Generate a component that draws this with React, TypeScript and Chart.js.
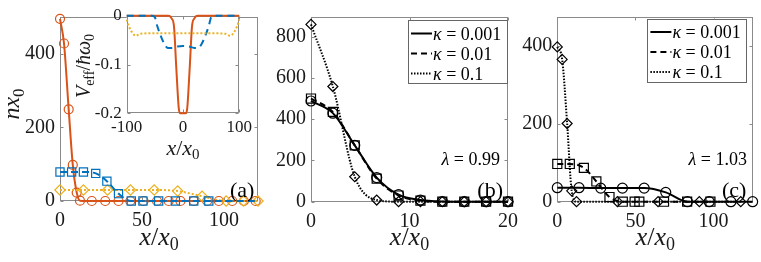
import React, { useEffect, useRef } from 'react';
import { Chart, registerables } from 'chart.js';
Chart.register(...registerables);

const W = 761, H = 262;
const FONT = "'Liberation Serif', 'DejaVu Serif', serif";
const FRAME = '#8a8a8a';
const TEXT = '#1a1a1a';
const ORANGE = '#D95319', BLUE = '#0072BD', YELLOW = '#EDB120';

// ---------- Panel (a) ----------
const aXTicks = [0, 50, 100];
const aYTicks = [0, 200, 400];
const aCircX = [0, 2.45, 5.3, 7.8, 10.2, 12.2, 19.4, 27.6, 35.7, 42.9, 51, 59.2, 66.3, 73.5, 81.6, 89.8, 96.9, 105.1, 112.2, 119.4];
const aCircY = [495, 428, 249, 98, 23, 1, 0, 0, 0, 0, 0, 0, 0, 0, 0, 0, 0, 0, 0, 0];
const aSqX = [0, 7.1, 14.3, 21.8, 28.6, 35.7, 43.5, 50.6, 60.2, 70.4, 81.6, 90.8, 121];
const aSqY = [79, 79, 79, 75, 54, 20, 0, 0, 0, 0, 0, 0, 0];
const aSqMarker = [1, 1, 1, 1, 1, 1, 1, 1, 1, 1, 1, 1, 0];
const aDiaX = [0, 14.3, 29, 43, 57.5, 71.8, 86.7, 101.4, 112, 120.8];
const aDiaY = [30, 30, 30, 30, 30, 27, 13, 0, 0, 0];

// ---------- Inset of (a) ----------
const insXTicks = [-100, 0, 100];
const insYTicks = [0, -0.1, -0.2];
const insOrX = [-100, -26, -20, -16, -12, -7.5, -5, 0, 5, 7.5, 12, 16, 20, 26, 100];
const insOrY = [0, 0, -0.006, -0.022, -0.105, -0.19, -0.2, -0.2, -0.2, -0.19, -0.105, -0.022, -0.006, 0, 0];
const insBlX = [-100, -55, -50, -46, -40, -33, -27, -20, -10, 0, 10, 20, 27, 33, 40, 46, 50, 55, 100];
const insBlY = [0, 0, -0.003, -0.02, -0.04, -0.058, -0.066, -0.066, -0.063, -0.062, -0.063, -0.066, -0.066, -0.058, -0.04, -0.02, -0.003, 0, 0];
const insYeX = [-100, -96, -90, -84, -75, -50, 0, 50, 75, 84, 90, 96, 100];
const insYeY = [-0.008, -0.022, -0.035, -0.041, -0.037, -0.036, -0.036, -0.036, -0.037, -0.041, -0.035, -0.022, -0.008];

// ---------- Panel (b) ----------
const bXTicks = [0, 10, 20];
const bYTicks = [0, 200, 400, 600, 800];
const bX = [0, 2.22, 4.44, 6.67, 8.89, 11.11, 13.33, 15.56, 17.78, 20];
const bSolid = [488, 429, 273, 117, 34, 8, 1, 0, 0, 0];
const bDashed = [500, 435, 273, 112, 30, 5, 0, 0, 0, 0];
const bDotted = [859, 558, 121, 8, 0, 0, 0, 0, 0, 0];

// ---------- Panel (c) ----------
const cXTicks = [0, 50, 100];
const cYTicks = [0, 200, 400];
const cCircX = [0, 13.9, 27.8, 41.7, 55.6, 69.4, 83.3, 97.2, 111.1, 125];
const cCircY = [36, 36, 35, 35, 35, 24, 0, 0, 0, 0];
const cSqX = [0, 8, 17, 25, 33.4, 41.9, 49.5, 52.5, 68.3, 83.1, 98];
const cSqY = [97, 97, 87, 52, 12, 0, 0, 0, 0, 0, 0];
const cDiaX = [0, 3.1, 6.3, 9.2, 12.3, 38.5, 64.5, 90.9, 117.4];
const cDiaY = [398, 366, 201, 28, 0, 0, 0, 0, 0];

const legendLabels = ['0.001', '0.01', '0.1'];

// ---------- helpers ----------
type Seg = { t: string; it?: boolean; s?: number; dy?: number };
function drawRich(ctx: CanvasRenderingContext2D, segs: Seg[], x: number, y: number, size: number,
  align: 'left' | 'center' | 'right', rot = 0, color = TEXT) {
  ctx.save();
  ctx.translate(x, y);
  ctx.rotate(rot);
  ctx.fillStyle = color;
  ctx.textBaseline = 'alphabetic';
  ctx.textAlign = 'left';
  const fonts = segs.map(sg => `${sg.it ? 'italic ' : ''}${sg.s ?? size}px ${FONT}`);
  let total = 0;
  const widths = segs.map((sg, i) => { ctx.font = fonts[i]; const w = ctx.measureText(sg.t).width; total += w; return w; });
  let cx = align === 'left' ? 0 : align === 'center' ? -total / 2 : -total;
  segs.forEach((sg, i) => { ctx.font = fonts[i]; ctx.fillText(sg.t, cx, sg.dy ?? 0); cx += widths[i]; });
  ctx.restore();
}

const xOverX0 = (s: number): Seg[] => [
  { t: 'x', it: true, s }, { t: '/', s }, { t: 'x', it: true, s }, { t: '0', s: Math.round(s * 0.7), dy: s * 0.2 },
];

const frameTicksPlugin = {
  id: 'frameTicks',
  beforeDatasetsDraw(chart: any) {
    const { ctx, chartArea: a, scales } = chart;
    const TL = 3;
    ctx.save();
    ctx.strokeStyle = FRAME;
    ctx.lineWidth = 1;
    const L = Math.round(a.left) + 0.5, R = Math.round(a.right) - 0.5;
    const T = Math.round(a.top) + 0.5, B = Math.round(a.bottom) - 0.5;
    ctx.strokeRect(L, T, R - L, B - T);
    ctx.beginPath();
    scales.x.ticks.forEach((tk: any) => {
      const px = Math.round(scales.x.getPixelForValue(tk.value)) + 0.5;
      ctx.moveTo(px, B); ctx.lineTo(px, B - TL);
      ctx.moveTo(px, T); ctx.lineTo(px, T + TL);
    });
    scales.y.ticks.forEach((tk: any) => {
      const py = Math.round(scales.y.getPixelForValue(tk.value)) + 0.5;
      ctx.moveTo(L, py); ctx.lineTo(L + TL, py);
      ctx.moveTo(R, py); ctx.lineTo(R - TL, py);
    });
    ctx.stroke();
    ctx.restore();
  },
};

const YW = 50, XH = 50;
function baseOptions(area: { l: number; t: number; r: number; b: number }, xr: number[], xt: number[], yr: number[], yt: number[], tickSize: number, xPad: number) {
  return {
    responsive: false,
    animation: false,
    events: [],
    layout: { padding: { left: area.l - YW, top: area.t, right: W - area.r, bottom: H - area.b - XH } },
    plugins: { legend: { display: false }, tooltip: { enabled: false } },
    scales: {
      x: {
        type: 'linear', min: xr[0], max: xr[1],
        grid: { display: false, drawTicks: false }, border: { display: false },
        afterBuildTicks: (s: any) => { s.ticks = xt.map(v => ({ value: v })); },
        afterFit: (s: any) => { s.height = XH; },
        ticks: { font: { family: FONT, size: tickSize }, color: TEXT, padding: xPad, maxRotation: 0, autoSkip: false, callback: (v: any) => String(v) },
      },
      y: {
        type: 'linear', min: yr[0], max: yr[1],
        grid: { display: false, drawTicks: false }, border: { display: false },
        afterBuildTicks: (s: any) => { s.ticks = yt.map(v => ({ value: v })); },
        afterFit: (s: any) => { s.width = YW; },
        ticks: { font: { family: FONT, size: tickSize }, color: TEXT, padding: 5, autoSkip: false, callback: (v: any) => String(v) },
      },
    },
  };
}

function series(xs: number[], ys: number[], color: string, style: string, dash: number[], lw: number, r: number, mask?: number[]) {
  return {
    data: xs.map((x, i) => ({ x, y: ys[i] })),
    borderColor: color, borderWidth: lw, borderDash: dash,
    pointStyle: style, pointRadius: xs.map((_, i) => (mask && !mask[i] ? 0 : r)),
    pointBorderColor: color, pointBackgroundColor: 'rgba(0,0,0,0)', pointBorderWidth: 1.2,
    cubicInterpolationMode: 'monotone', fill: false, clip: false,
  };
}

function textPlugin(id: string, draw: (ctx: CanvasRenderingContext2D, a: any) => void) {
  return { id, afterDraw(chart: any) { draw(chart.ctx, chart.chartArea); } };
}

function legendDraw(ctx: CanvasRenderingContext2D, a: any, rOff: number, tOff: number) {
  const w = 100, h = 64;
  const l = a.right - rOff - w, t = a.top + tOff;
  ctx.save();
  ctx.fillStyle = '#fff';
  ctx.fillRect(l, t, w, h);
  ctx.strokeStyle = '#666';
  ctx.lineWidth = 1;
  ctx.strokeRect(Math.round(l) + 0.5, Math.round(t) + 0.5, w - 1, h - 1);
  const dashes = [[], [6, 4], [1.5, 1.5]];
  legendLabels.forEach((lab, i) => {
    const cy = t + 13.5 + i * 20;
    ctx.strokeStyle = '#000';
    ctx.lineWidth = 2;
    ctx.setLineDash(dashes[i]);
    ctx.beginPath(); ctx.moveTo(l + 3, cy); ctx.lineTo(l + 24, cy); ctx.stroke();
    ctx.setLineDash([]);
    drawRich(ctx, [{ t: 'κ', it: true }, { t: ' = ' + lab }], l + 25, cy + 6, 18, 'left', 0, '#000');
  });
  ctx.restore();
}

function useChart(make: () => any) {
  const ref = useRef<HTMLCanvasElement>(null);
  useEffect(() => {
    if (!ref.current) return;
    const ch = new Chart(ref.current, make());
    return () => ch.destroy();
  }, []);
  return ref;
}

const canvasStyle: React.CSSProperties = { position: 'absolute', left: 0, top: 0, width: W, height: H };

export default function App() {
  const refA = useChart(() => ({
    type: 'line',
    data: {
      datasets: [
        series(aSqX, aSqY, BLUE, 'rect', [7, 4], 2, 5.8, aSqMarker),
        series(aDiaX, aDiaY, YELLOW, 'rectRot', [2, 2], 2, 5.2),
        series(aCircX, aCircY, ORANGE, 'circle', [], 2, 4.5),
      ],
    },
    options: baseOptions({ l: 60, t: 5, r: 258.3, b: 201 }, [0, 121], aXTicks, [0, 500], aYTicks, 20, 8),
    plugins: [frameTicksPlugin, textPlugin('txtA', (ctx, a) => {
      drawRich(ctx, xOverX0(26), (a.left + a.right) / 2, 245, 26, 'center');
      drawRich(ctx, [{ t: 'n', it: true }, { t: 'x', it: true }, { t: '0', s: 17, dy: 5 }], 19, 104, 24, 'center', -Math.PI / 2);
      drawRich(ctx, [{ t: '(a)' }], a.right - 4, 197, 22, 'right', 0, '#000');
    })],
  }));

  const refIns = useChart(() => ({
    type: 'line',
    data: {
      datasets: [
        series(insYeX, insYeY, YELLOW, 'circle', [2, 2], 2, 0),
        series(insBlX, insBlY, BLUE, 'circle', [7, 5], 2, 0),
        series(insOrX, insOrY, ORANGE, 'circle', [], 2, 0),
      ],
    },
    options: baseOptions({ l: 126.7, t: 15.7, r: 239.3, b: 113.3 }, [-100, 100], insXTicks, [-0.2, 0], insYTicks, 17, 4),
    plugins: [
      { id: 'insBg', beforeDraw(chart: any) { const a = chart.chartArea; chart.ctx.save(); chart.ctx.fillStyle = '#fff'; chart.ctx.fillRect(a.left, a.top, a.right - a.left, a.bottom - a.top); chart.ctx.restore(); } },
      frameTicksPlugin,
      textPlugin('txtIns', (ctx, a) => {
        drawRich(ctx, xOverX0(22), (a.left + a.right) / 2, 155, 22, 'center');
        drawRich(ctx, [{ t: 'V', it: true }, { t: 'eff', s: 14, dy: 4 }, { t: '/' }, { t: 'ħ', it: true }, { t: 'ω', it: true }, { t: '0', s: 14, dy: 4 }], 90, 66, 20, 'center', -Math.PI / 2);
      }),
    ],
  }));

  const refB = useChart(() => ({
    type: 'line',
    data: {
      datasets: [
        series(bX, bDotted, '#000', 'rectRot', [1.5, 1.5], 2, 5),
        series(bX, bDashed, '#000', 'rect', [6, 4], 2, 6.4),
        series(bX, bSolid, '#000', 'circle', [], 2, 5),
      ],
    },
    options: baseOptions({ l: 311, t: 5, r: 508, b: 201.7 }, [0, 20], bXTicks, [0, 895], bYTicks, 20, 8),
    plugins: [frameTicksPlugin, textPlugin('txtB', (ctx, a) => {
      drawRich(ctx, xOverX0(26), (a.left + a.right) / 2, 245, 26, 'center');
      drawRich(ctx, [{ t: 'λ', it: true }, { t: ' = 0.99' }], 500, 165, 18, 'right', 0, '#000');
      drawRich(ctx, [{ t: '(b)' }], a.right - 5, 197, 22, 'right', 0, '#000');
      legendDraw(ctx, a, 0, 3);
    })],
  }));

  const refC = useChart(() => ({
    type: 'line',
    data: {
      datasets: [
        series(cDiaX, cDiaY, '#000', 'rectRot', [1.5, 1.5], 2, 5),
        series(cSqX, cSqY, '#000', 'rect', [6, 4], 2, 6.4),
        series(cCircX, cCircY, '#000', 'circle', [], 2, 5),
      ],
    },
    options: baseOptions({ l: 557.3, t: 5, r: 755, b: 201.7 }, [0, 125.5], cXTicks, [0, 475], cYTicks, 20, 8),
    plugins: [frameTicksPlugin, textPlugin('txtC', (ctx, a) => {
      drawRich(ctx, xOverX0(26), (a.left + a.right) / 2, 245, 26, 'center');
      drawRich(ctx, [{ t: 'λ', it: true }, { t: ' = 1.03' }], 747, 165, 18, 'right', 0, '#000');
      drawRich(ctx, [{ t: '(c)' }], a.right - 7, 197, 22, 'right', 0, '#000');
      legendDraw(ctx, a, 6, 1.5);
    })],
  }));

  return (
    <div style={{ position: 'fixed', left: 0, top: 0, width: W, height: H, background: '#fff' }}>
      <canvas ref={refA} width={W} height={H} style={canvasStyle} />
      <canvas ref={refB} width={W} height={H} style={canvasStyle} />
      <canvas ref={refC} width={W} height={H} style={canvasStyle} />
      <canvas ref={refIns} width={W} height={H} style={canvasStyle} />
    </div>
  );
}
